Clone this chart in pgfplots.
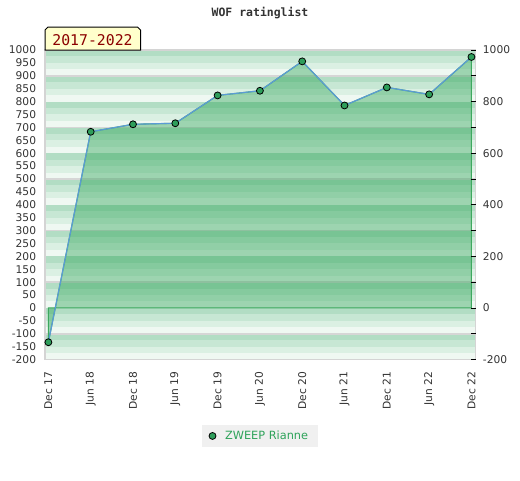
\documentclass[border=0pt]{standalone}
\usepackage{fontspec}
\setmainfont{DejaVu Sans}
\newfontfamily\monofont{DejaVu Sans Mono}
\usepackage{pgfplots}
\pgfplotsset{compat=1.18}

\definecolor{s1}{HTML}{B2DDC4}
\definecolor{s2}{HTML}{C7E7D4}
\definecolor{s3}{HTML}{DBF0E3}
\definecolor{s4}{HTML}{EFF8F2}
\definecolor{gridgray}{HTML}{D6D6D6}
\definecolor{framegray}{HTML}{D4D4D4}
\definecolor{areafill}{RGB}{35,159,77}
\definecolor{edgegreen}{HTML}{3DA85E}
\definecolor{lineblue}{HTML}{5B9BD5}
\definecolor{markgreen}{HTML}{2E9E5B}
\definecolor{labelgray}{HTML}{333333}
\definecolor{legendgreen}{HTML}{2EA35A}
\definecolor{legendbg}{HTML}{F0F0F0}
\definecolor{boxyellow}{HTML}{FFFFCC}
\definecolor{boxred}{HTML}{8B0000}

\begin{document}
\begin{tikzpicture}
\path[use as bounding box] (0,0) rectangle (390pt,360pt);
\begin{axis}[
  at={(33.75pt,90.375pt)}, anchor=south west,
  scale only axis, width=323pt, height=232.125pt,
  xmin=-0.08, xmax=10.1, ymin=-200, ymax=1000,
  axis on top,
  axis line style={framegray, line width=1.2pt},
  xtick={0,...,10},
  xticklabels={Dec 17,Jun 18,Dec 18,Jun 19,Dec 19,Jun 20,Dec 20,Jun 21,Dec 21,Jun 22,Dec 22},
  xticklabel style={rotate=90, anchor=east, inner sep=0pt},
  xticklabel shift=9pt,
  ytick={-200,-150,...,1000},
  yticklabel style={anchor=east, inner sep=0pt},
  yticklabel shift=6.5pt,
  ytick pos=left, xtick pos=bottom,
  major tick length=0pt,
  tick label style={font=\fontsize{8}{9.6}\selectfont, text=labelgray},
  /pgf/number format/assume math mode=true,
  /pgf/number format/1000 sep={},
]
\pgfplotsinvokeforeach{-200,-100,0,100,200,300,400,500,600,700,800,900}{
  \fill[s4] (axis cs:-1,{#1}) rectangle (axis cs:11,{#1+25});
  \fill[s3] (axis cs:-1,{#1+25}) rectangle (axis cs:11,{#1+50});
  \fill[s2] (axis cs:-1,{#1+50}) rectangle (axis cs:11,{#1+75});
  \fill[s1] (axis cs:-1,{#1+75}) rectangle (axis cs:11,{#1+100});
}
\pgfplotsinvokeforeach{-100,100,300,500,700,900}{
  \draw[gridgray, line width=1.2pt] (axis cs:-1,{#1}) -- (axis cs:11,{#1});
}
\end{axis}

\begin{axis}[
  at={(33.75pt,90.375pt)}, anchor=south west,
  scale only axis, width=323pt, height=232.125pt,
  xmin=-0.08, xmax=10.1, ymin=-200, ymax=1000,
  clip=false, axis on top,
  axis x line=none, axis y line*=right,
  y axis line style={draw=none},
  ytick={-200,0,...,1000}, minor ytick={-100,100,...,900},
  tick align=inside, major tick length=3.75pt, minor tick length=3.75pt,
  tick style={black, line width=0.6pt},
  yticklabel style={anchor=west, inner sep=0pt},
  yticklabel shift=5.25pt,
  tick label style={font=\fontsize{8}{9.6}\selectfont, text=labelgray},
  /pgf/number format/assume math mode=true,
  /pgf/number format/1000 sep={},
  legend style={at={(0.499,-0.247)}, anchor=center, fill=legendbg, draw=none,
    font=\fontsize{8.5}{10}\selectfont, text=legendgreen,
    inner xsep=5.6pt, inner ysep=2.5pt},
  legend image code/.code={\draw[#1] plot coordinates {(0pt,0pt)}; \path (7.2pt,0pt);},
]
\addplot[draw=edgegreen, line width=0.8pt, fill=areafill, fill opacity=0.4, forget plot]
  coordinates {(0,0) (0,-133) (1,683) (2,712) (3,716) (4,824) (5,842) (6,956) (7,785) (8,855) (9,828) (10,973) (10,0)} -- cycle;
\addplot[lineblue, line width=0.9pt, mark=*, mark size=2.6pt,
  mark options={fill=markgreen, draw=black, line width=0.6pt}, forget plot]
  coordinates {(0,-133) (1,683) (2,712) (3,716) (4,824) (5,842) (6,956) (7,785) (8,855) (9,828) (10,973)};
\addlegendimage{only marks, mark=*, mark size=2.6pt, mark options={fill=markgreen, draw=black, line width=0.6pt}}
\addlegendentry{ZWEEP Rianne}
\end{axis}

\begin{scope}[x=0.75pt, y=0.75pt]
\node[font=\monofont\bfseries\fontsize{8.6}{10}\selectfont, text=labelgray] at (260,467) {WOF ratinglist};
\filldraw[fill=boxyellow, draw=black, line width=0.75pt]
  (45,430) -- (45,450) -- (48,453) -- (137.5,453) -- (140.5,450) -- (140.5,430) -- cycle;
\node[font=\monofont\fontsize{11.1}{13}\selectfont, text=boxred] at (92.5,440) {2017-2022};
\end{scope}
\end{tikzpicture}
\end{document}
